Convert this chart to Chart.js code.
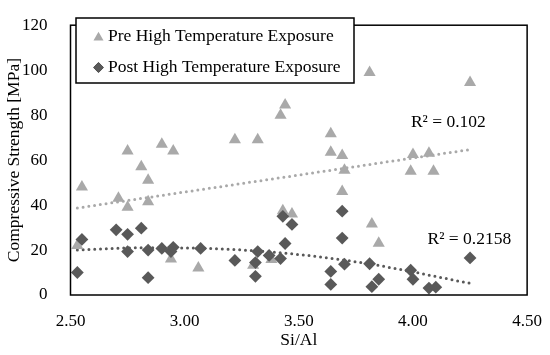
<!DOCTYPE html>
<html>
<head>
<meta charset="utf-8">
<script src="https://cdn.jsdelivr.net/npm/chart.js@4.4.1/dist/chart.umd.min.js"></script>
<style>
  html, body { margin: 0; padding: 0; background: #fff; }
</style>
</head>
<body>
<canvas id="myChart" width="550" height="355"></canvas>
<script>
// Pre high temperature exposure (triangles)
const preX = [2.53, 2.55, 2.71, 2.75, 2.75, 2.81, 2.84, 2.84, 2.90, 2.95, 2.94, 3.06, 3.22, 3.32, 3.42, 3.44,
  3.43, 3.47, 3.30, 3.38, 3.64, 3.64, 3.69, 3.70, 3.69, 3.81, 3.82, 3.85, 4.00, 4.07, 3.99, 4.09, 4.25];
const preY = [22, 48, 43, 39, 64, 57, 51, 41.5, 67, 64, 16, 12, 69, 69, 80, 84.5,
  37.5, 36, 13.2, 15.8, 71.7, 63.5, 62, 55.5, 46, 99, 31.6, 23, 62.5, 63, 55, 55, 94.5];

// Post high temperature exposure (diamonds)
const postX = [2.55, 2.53, 2.70, 2.75, 2.75, 2.81, 2.84, 2.84, 2.90, 2.94, 2.95, 3.07, 3.22, 3.32, 3.31, 3.31,
  3.37, 3.42, 3.44, 3.43, 3.47, 3.69, 3.69, 3.70, 3.64, 3.64, 3.81, 3.85, 3.82, 3.99, 4.00, 4.07, 4.10, 4.25];
const postY = [24.7, 10, 29, 27, 19.3, 29.7, 7.7, 20, 20.7, 19.3, 21.2, 20.7, 15.4, 19.3, 14.4, 8.3,
  17.6, 16.2, 22.9, 35, 31.4, 37.3, 25.3, 13.7, 10.5, 4.7, 13.9, 7, 3.7, 11, 7, 3.1, 3.5, 16.5];

// trendlines
const preTrendX = [2.53, 4.25];
const preTrendY = [38.7, 64.7];
const postTrendX = [2.53, 2.80, 3.07, 3.50, 3.81, 4.25];
const postTrendY = [20, 21, 20.8, 18, 13.8, 5.2];

const seriesNames = ['Pre High Temperature Exposure', 'Post High Temperature Exposure'];
const r2Text = ['R\u00b2 = 0.102', 'R\u00b2 = 0.2158'];
const r2X = [4.155, 4.247];
const r2Y = [76.6, 24.7];

const xTicks = [2.5, 3.0, 3.5, 4.0, 4.5];
const yTicks = [0, 20, 40, 60, 80, 100, 120];

const lightGray = '#a9a9a9';
const darkGray = '#595959';
const serif = '"Liberation Serif", "Times New Roman", serif';

function toPoints(xs, ys) {
  return xs.map((x, i) => ({ x: x, y: ys[i] }));
}

Chart.defaults.font.family = serif;
Chart.defaults.color = '#000';

const frameAndLegend = {
  id: 'frameAndLegend',
  afterDatasetsDraw(chart) {
    const c = chart.ctx;
    const a = chart.chartArea;
    c.save();
    // plot frame
    c.strokeStyle = '#000';
    c.lineWidth = 1.5;
    c.strokeRect(a.left, a.top, a.right - a.left, a.bottom - a.top);

    // R² labels
    c.font = '17.5px ' + serif;
    c.fillStyle = '#000';
    c.textAlign = 'center';
    c.textBaseline = 'middle';
    for (let i = 0; i < r2Text.length; i++) {
      c.fillText(r2Text[i], chart.scales.x.getPixelForValue(r2X[i]), chart.scales.y.getPixelForValue(r2Y[i]));
    }

    // legend box
    c.fillStyle = '#fff';
    c.fillRect(76, 18, 278, 65);
    c.lineWidth = 1.5;
    c.strokeRect(76, 18, 278, 65);
    const rows = [36.5, 67.5];
    const ds = [chart.data.datasets[1], chart.data.datasets[0]];
    for (let i = 0; i < 2; i++) {
      Chart.helpers.drawPoint(c, {
        pointStyle: ds[i].pointStyle,
        radius: i === 0 ? 5.8 : 5.2,
        rotation: 0,
        borderWidth: 0
      }, 98.5, rows[i] + (i === 0 ? 1 : 0));
      c.fillStyle = ds[i].backgroundColor;
      c.fill();
      c.fillStyle = '#000';
      c.textAlign = 'left';
      c.fillText(seriesNames[i], 108, rows[i]);
    }
    c.restore();
  }
};

const chart = new Chart(document.getElementById('myChart').getContext('2d'), {
  type: 'scatter',
  data: {
    datasets: [
      {
        label: seriesNames[1],
        data: toPoints(postX, postY),
        pointStyle: 'rectRot',
        pointRadius: 6.4,
        backgroundColor: darkGray,
        borderColor: darkGray,
        borderWidth: 0,
        order: 0
      },
      {
        label: seriesNames[0],
        data: toPoints(preX, preY),
        pointStyle: 'triangle',
        pointRadius: 7,
        backgroundColor: lightGray,
        borderColor: lightGray,
        borderWidth: 0,
        order: 1
      },
      {
        type: 'line',
        label: 'Pre trend',
        data: toPoints(preTrendX, preTrendY),
        borderColor: lightGray,
        borderWidth: 3,
        borderDash: [0, 5.8],
        borderCapStyle: 'round',
        pointRadius: 0,
        fill: false,
        order: 2
      },
      {
        type: 'line',
        label: 'Post trend',
        data: toPoints(postTrendX, postTrendY),
        borderColor: darkGray,
        borderWidth: 3,
        borderDash: [0, 5.8],
        borderCapStyle: 'round',
        pointRadius: 0,
        tension: 0.4,
        cubicInterpolationMode: 'monotone',
        fill: false,
        order: 3
      }
    ]
  },
  options: {
    responsive: false,
    devicePixelRatio: 1,
    animation: false,
    layout: { padding: { top: 13, right: 22, left: 0, bottom: 0 } },
    plugins: {
      legend: { display: false },
      tooltip: { enabled: false }
    },
    scales: {
      x: {
        type: 'linear',
        min: 2.5,
        max: 4.5,
        afterFit: (scale) => { scale.height = 60; },
        afterBuildTicks: (scale) => { scale.ticks = xTicks.map(v => ({ value: v })); },
        grid: { display: false },
        border: { display: false },
        ticks: {
          padding: 8,
          font: { size: 17 },
          callback: (v) => Number(v).toFixed(2)
        },
        title: {
          display: true,
          text: 'Si/Al',
          font: { size: 17.5 },
          padding: { top: 0, bottom: 4 }
        }
      },
      y: {
        min: 0,
        max: 120,
        afterFit: (scale) => { scale.width = 70.5; },
        afterBuildTicks: (scale) => { scale.ticks = yTicks.map(v => ({ value: v })); },
        grid: { display: false },
        border: { display: false },
        ticks: {
          padding: 15,
          font: { size: 17 }
        },
        title: {
          display: true,
          text: 'Compressive Strength [MPa]',
          font: { size: 17.5 },
          padding: { top: 4, bottom: 0 }
        }
      }
    }
  },
  plugins: [frameAndLegend]
});
</script>
</body>
</html>
